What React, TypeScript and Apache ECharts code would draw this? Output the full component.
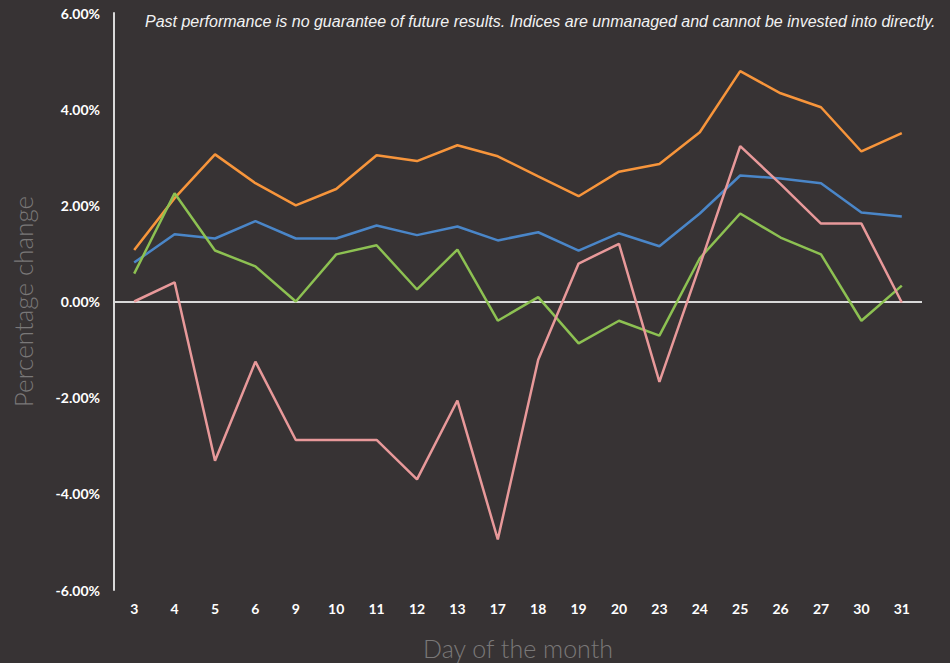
import React, { useEffect, useRef } from "react";
import * as echarts from "echarts";

const days = ["3", "4", "5", "6", "9", "10", "11", "12", "13", "17", "18", "19", "20", "23", "24", "25", "26", "27", "30", "31"];
const orangeSeries = [1.07, 2.15, 3.06, 2.46, 2.0, 2.34, 3.04, 2.92, 3.25, 3.02, 2.6, 2.19, 2.7, 2.86, 3.52, 4.79, 4.33, 4.04, 3.12, 3.5];
const blueSeries = [0.81, 1.4, 1.31, 1.67, 1.31, 1.31, 1.58, 1.38, 1.56, 1.27, 1.44, 1.06, 1.42, 1.15, 1.83, 2.62, 2.56, 2.46, 1.85, 1.77];
const greenSeries = [0.58, 2.25, 1.06, 0.73, 0.0, 0.98, 1.17, 0.25, 1.08, -0.4, 0.09, -0.87, -0.4, -0.71, 0.9, 1.83, 1.33, 0.98, -0.4, 0.33];
const pinkSeries = [0.0, 0.4, -3.31, -1.25, -2.88, -2.88, -2.88, -3.7, -2.06, -4.95, -1.21, 0.79, 1.2, -1.67, 0.75, 3.23, 2.44, 1.62, 1.62, -0.02];
const yTicks = [-6, -4, -2, 0, 2, 4, 6];

const note = "Past performance is no guarantee of future results. Indices are unmanaged and cannot be invested into directly.";

export default function App() {
  const ref = useRef<HTMLDivElement>(null);
  useEffect(() => {
    if (!ref.current) return;
    const chart = echarts.init(ref.current, null, { renderer: "svg" });
    const mk = (data: number[], color: string, z: number) => ({
      type: "line",
      data,
      symbol: "none",
      z,
      lineStyle: { color, width: 2.5 },
    });
    chart.setOption({
      animation: false,
      backgroundColor: "#373334",
      grid: { left: 114, right: 28, top: 13, bottom: 73, containLabel: false, outerBoundsMode: "none" },
      graphic: [
        {
          type: "text",
          left: 145,
          top: 13,
          style: {
            text: note,
            fill: "#f2f2f2",
            font: "italic 16px 'Liberation Sans', Arial, sans-serif",
          },
        },
      ],
      xAxis: {
        type: "category",
        data: days,
        boundaryGap: true,
        axisLine: { show: false },
        axisTick: { show: false },
        axisLabel: {
          color: "#ffffff",
          fontFamily: "Lato",
          fontWeight: "bold",
          fontSize: 14,
          margin: 11,
          interval: 0,
        },
        name: "Day of the month",
        nameLocation: "middle",
        nameGap: 45,
        nameTextStyle: { color: "#7a7878", fontFamily: "Lato", fontWeight: 300, fontSize: 25 },
      },
      yAxis: {
        type: "value",
        min: yTicks[0],
        max: yTicks[yTicks.length - 1],
        interval: 2,
        splitLine: { show: false },
        axisTick: { show: false },
        axisLine: { show: true, lineStyle: { color: "#d9d9d9", width: 2 } },
        axisLabel: {
          color: "#ffffff",
          fontFamily: "Lato",
          fontWeight: "bold",
          fontSize: 14,
          margin: 14,
          formatter: (v: number) => v.toFixed(2) + "%",
        },
        name: "Percentage change",
        nameLocation: "middle",
        nameGap: 78,
        nameTextStyle: { color: "#7a7878", fontFamily: "Lato", fontWeight: 300, fontSize: 26 },
      },
      series: [
        {
          ...mk(orangeSeries, "#f7953b", 3),
          markLine: {
            silent: true,
            symbol: "none",
            label: { show: false },
            lineStyle: { color: "#d9d9d9", width: 2, type: "solid" },
            data: [{ yAxis: 0 }],
          },
        },
        mk(blueSeries, "#4a86c8", 4),
        mk(greenSeries, "#8dc152", 5),
        mk(pinkSeries, "#e8999a", 6),
      ],
    });
    return () => chart.dispose();
  }, []);
  return <div ref={ref} style={{ position: "fixed", left: 0, top: 0, width: 950, height: 663 }} />;
}
